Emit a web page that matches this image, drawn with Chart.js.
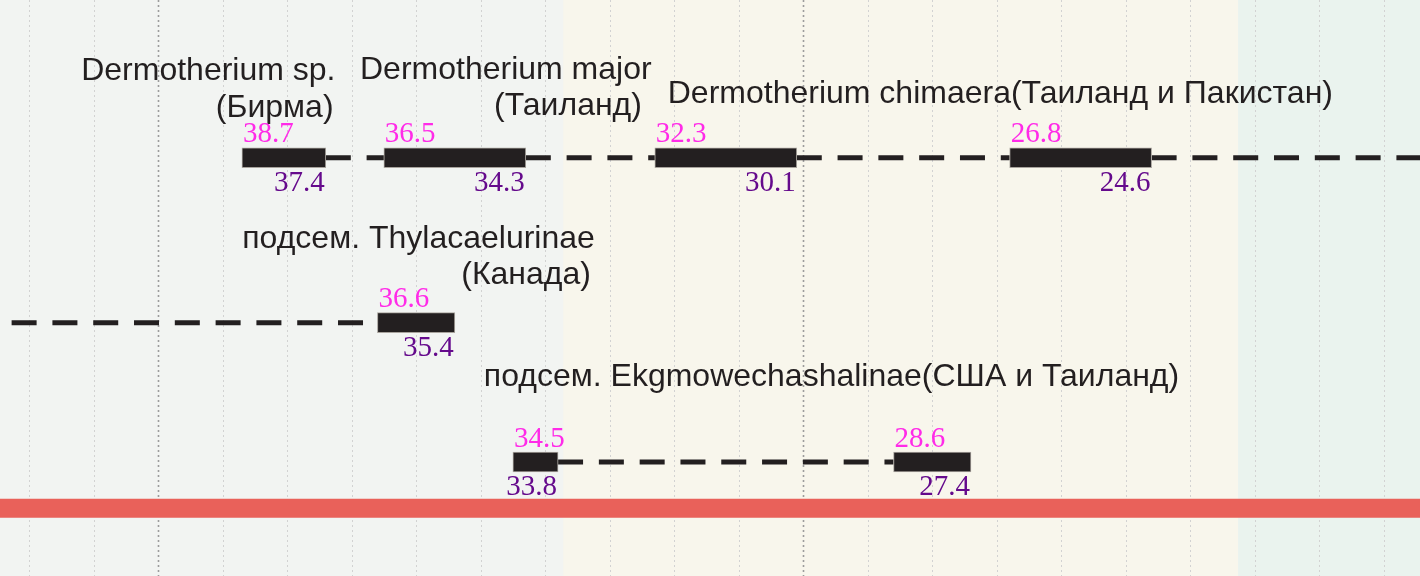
<!DOCTYPE html>
<html>
<head>
<meta charset="utf-8">
<script src="https://cdn.jsdelivr.net/npm/chart.js@4/dist/chart.umd.min.js"></script>
<style>
  html, body { margin: 0; padding: 0; background: #f2f4f2; overflow: hidden; }
</style>
</head>
<body>
<canvas id="timeline" width="1420" height="576"></canvas>
<script>
// ось времени: млн лет назад, старое слева
var X_MIN = 20.44;
var X_MAX = 42.45;

var rowNames = ["Dermotherium", "Thylacaelurinae", "Ekgmowechashalinae"];

// известные интервалы (начало / конец)
var barRow  = [0, 0, 0, 0, 1, 2, 2];
var barFrom = [38.7, 36.5, 32.3, 26.8, 36.6, 34.5, 28.6];
var barTill = [37.4, 34.3, 30.1, 24.6, 35.4, 33.8, 27.4];

// пунктир между интервалами
var gapRow  = [0, 0, 0, 0, 1, 2];
var gapFrom = [37.4, 34.3, 30.1, 24.6, 42.27, 33.8];
var gapTill = [36.5, 32.3, 26.8, 20.0, 36.6, 28.6];

// эпохи
var epochNames = ["Эоцен", "Олигоцен", "Миоцен"];
var epochFrom  = [X_MAX, 33.72, 23.26];
var epochTill  = [33.72, 23.26, X_MIN];

// подписи таксонов
var labelText = [
  "Dermotherium sp.", "(Бирма)",
  "Dermotherium major", "(Таиланд)",
  "Dermotherium chimaera(Таиланд и Пакистан)",
  "подсем. Thylacaelurinae", "(Канада)",
  "подсем. Ekgmowechashalinae(США и Таиланд)"
];
var labelRow = [0, 0, 0, 0, 0, 1, 1, 2];
var labelAt  = [37.25, 37.28, 36.87, 32.5, 32.1, 33.23, 33.29, 34.95];

// оформление
var rowY = [27.38, 56.02, 80.21];   // % высоты
var baseY = 88.25;
var labelAlign = ["right", "right", "left", "right", "left", "right", "right", "left"];
var labelDy = [-77.7, -41, -78.4, -42.7, -55.2, -75, -38.7, -76.5];
var epochColors = ["#f2f4f2", "#f8f6ec", "#eaf3ee"];
var ink = "#231f20";

var backdrop = {
  id: "backdrop",
  beforeDatasetsDraw: function (chart) {
    var ctx = chart.ctx, x = chart.scales.x, area = chart.chartArea;
    ctx.save();
    for (var i = 0; i < epochNames.length; i++) {
      var a = x.getPixelForValue(epochFrom[i]);
      var b = x.getPixelForValue(epochTill[i]);
      ctx.fillStyle = epochColors[i];
      ctx.fillRect(a, area.top, b - a, area.bottom - area.top);
    }
    for (var v = Math.ceil(X_MIN); v <= Math.floor(X_MAX); v++) {
      var px = Math.round(x.getPixelForValue(v)) + 0.5;
      var major = v % 10 === 0;
      ctx.strokeStyle = major ? "#9c9c9c" : "#d2d2d2";
      ctx.lineWidth = major ? 1.6 : 1;
      ctx.setLineDash([2, 3]);
      ctx.beginPath();
      ctx.moveTo(px, area.top);
      ctx.lineTo(px, area.bottom);
      ctx.stroke();
    }
    ctx.restore();
  }
};

var texts = {
  id: "texts",
  afterDatasetsDraw: function (chart) {
    var ctx = chart.ctx, x = chart.scales.x, y = chart.scales.y;
    ctx.save();
    ctx.textBaseline = "alphabetic";
    ctx.font = "32px 'Liberation Sans', Arial, sans-serif";
    ctx.fillStyle = ink;
    for (var i = 0; i < labelText.length; i++) {
      ctx.textAlign = labelAlign[i];
      ctx.fillText(labelText[i], x.getPixelForValue(labelAt[i]), y.getPixelForValue(rowY[labelRow[i]]) + labelDy[i]);
    }
    ctx.font = "29px 'Liberation Serif', 'Times New Roman', serif";
    for (var j = 0; j < barFrom.length; j++) {
      var ry = y.getPixelForValue(rowY[barRow[j]]);
      ctx.fillStyle = "#ff2be8";
      ctx.textAlign = "left";
      ctx.fillText(barFrom[j].toFixed(1), x.getPixelForValue(barFrom[j]) + 1, ry - 15.5);
      ctx.fillStyle = "#650a8c";
      ctx.textAlign = "right";
      ctx.fillText(barTill[j].toFixed(1), x.getPixelForValue(barTill[j]) - 1, ry + 33);
    }
    ctx.restore();
  }
};

var datasets = [];

datasets.push({
  type: "bar",
  label: "интервалы",
  indexAxis: "y",
  data: barFrom.map(function (f, i) {
    return { x: [f, barTill[i]], y: rowY[barRow[i]] };
  }),
  backgroundColor: ink,
  borderColor: "#a8a39d",
  borderWidth: 1,
  borderSkipped: false,
  barThickness: 20,
  order: 0
});

gapFrom.forEach(function (f, i) {
  datasets.push({
    type: "line",
    label: rowNames[gapRow[i]],
    data: [{ x: f, y: rowY[gapRow[i]] }, { x: gapTill[i], y: rowY[gapRow[i]] }],
    borderColor: ink,
    borderWidth: 5,
    borderDash: [25, 15.8],
    borderCapStyle: "butt",
    pointRadius: 0,
    order: 1
  });
});

datasets.push({
  type: "line",
  label: "base",
  data: [{ x: X_MAX + 1, y: baseY }, { x: X_MIN - 1, y: baseY }],
  borderColor: "#e9615a",
  borderWidth: 19,
  pointRadius: 0,
  clip: false,
  order: 2
});

new Chart(document.getElementById("timeline").getContext("2d"), {
  type: "bar",
  data: { datasets: datasets },
  options: {
    responsive: false,
    animation: false,
    events: [],
    layout: { padding: 0 },
    plugins: { legend: { display: false }, tooltip: { enabled: false } },
    scales: {
      x: { type: "linear", min: X_MIN, max: X_MAX, reverse: true, offset: false, display: false },
      y: { type: "linear", min: 0, max: 100, reverse: true, offset: false, display: false }
    }
  },
  plugins: [backdrop, texts]
});
</script>
</body>
</html>
